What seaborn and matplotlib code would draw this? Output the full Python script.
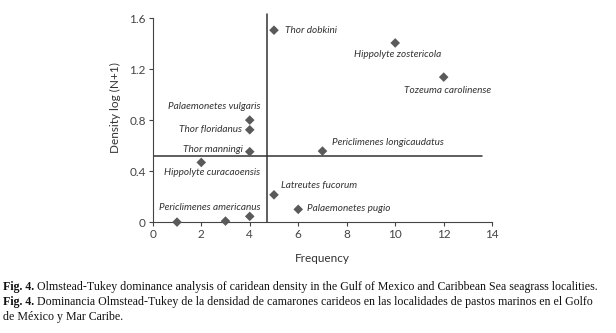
import numpy as np
import pandas as pd
import seaborn as sns
import matplotlib.pyplot as plt

# data
species = ['Thor dobkini', 'Hippolyte zostericola', 'Tozeuma carolinense',
           'Palaemonetes vulgaris', 'Thor floridanus', 'Thor manningi',
           'Periclimenes longicaudatus', 'Hippolyte curacaoensis',
           'Latreutes fucorum', 'Palaemonetes pugio',
           'Periclimenes americanus', '', '']
frequency = [5, 10, 12, 4, 4, 4, 7, 2, 5, 6, 3, 1, 4]
density = [1.505, 1.405, 1.137, 0.80, 0.724, 0.552, 0.557, 0.468, 0.214, 0.10, 0.008, 0.0, 0.045]

# label placement (x, y, ha) for each species
label_pos = [(5.45, 1.506, 'left'), (10.08, 1.315, 'center'), (12.17, 1.035, 'center'),
             (2.52, 0.904, 'center'), (3.68, 0.73, 'right'), (3.73, 0.57, 'right'),
             (7.38, 0.622, 'left'), (2.45, 0.39, 'center'), (5.28, 0.285, 'left'),
             (6.38, 0.105, 'left'), (2.36, 0.115, 'center'), None, None]

freq_cut = 4.72
dens_cut = 0.518

df = pd.DataFrame({'species': species, 'frequency': frequency, 'density': density})

sns.set_style('ticks')
plt.rcParams['font.family'] = ['Lato', 'DejaVu Sans']

fig = plt.figure(figsize=(6.16, 3.33), dpi=100)
ax = fig.add_axes([0.248, 0.333, 0.551, 0.628])

sns.scatterplot(data=df, x='frequency', y='density', marker='D', s=24,
                color='#5a5a5a', edgecolor='none', ax=ax, clip_on=False, zorder=3)

# Olmstead-Tukey cut lines
ax.plot([freq_cut, freq_cut], [0, 1.63], color='#333333', lw=1.1, clip_on=False)
ax.plot([0, 13.6], [dens_cut, dens_cut], color='#333333', lw=1.1)

for name, pos in zip(species, label_pos):
    if pos is None:
        continue
    ax.text(pos[0], pos[1], name, ha=pos[2], va='center', style='italic',
            fontsize=7.2, color='#333333')

ax.set_xlim(0, 14)
ax.set_ylim(0, 1.64)
ax.set_xticks(np.arange(0, 15, 2))
ax.set_yticks([0, 0.4, 0.8, 1.2, 1.6])
ax.set_yticklabels(['0', '0.4', '0.8', '1.2', '1.6'])
ax.spines['left'].set_bounds(0, 1.6)
ax.spines['top'].set_visible(False)
ax.spines['right'].set_visible(False)
for sp in ['left', 'bottom']:
    ax.spines[sp].set_color('#444444')
    ax.spines[sp].set_linewidth(0.8)
ax.tick_params(axis='both', labelsize=8.5, colors='#444444', length=3, width=0.8, pad=2)
ax.set_xlabel('Frequency', fontsize=8.5, color='#333333', labelpad=9)
ax.set_ylabel('Density log (N+1)', fontsize=8.5, color='#333333')
ax.yaxis.set_label_coords(-0.095, 0.55)

# caption below the chart
serif = ['Liberation Serif', 'DejaVu Serif']
cap = [("Fig. 4.", " Olmstead-Tukey dominance analysis of caridean density in the Gulf of Mexico and Caribbean Sea seagrass localities.", 0.128),
       ("Fig. 4.", " Dominancia Olmstead-Tukey de la densidad de camarones carideos en las localidades de pastos marinos en el Golfo", 0.083),
       ("", "de México y Mar Caribe.", 0.038)]
for bold, rest, y in cap:
    if bold:
        t = fig.text(0.005, y, bold, family=serif, fontsize=8.6, weight='bold',
                     va='baseline', color='#111111')
        ax.annotate(rest, xy=(1, 0), xycoords=t, va='bottom', ha='left',
                    family=serif, fontsize=8.6, color='#111111', annotation_clip=False)
    else:
        fig.text(0.005, y, rest, family=serif, fontsize=8.6, va='baseline', color='#111111')

fig.savefig('out.png', dpi=100)
